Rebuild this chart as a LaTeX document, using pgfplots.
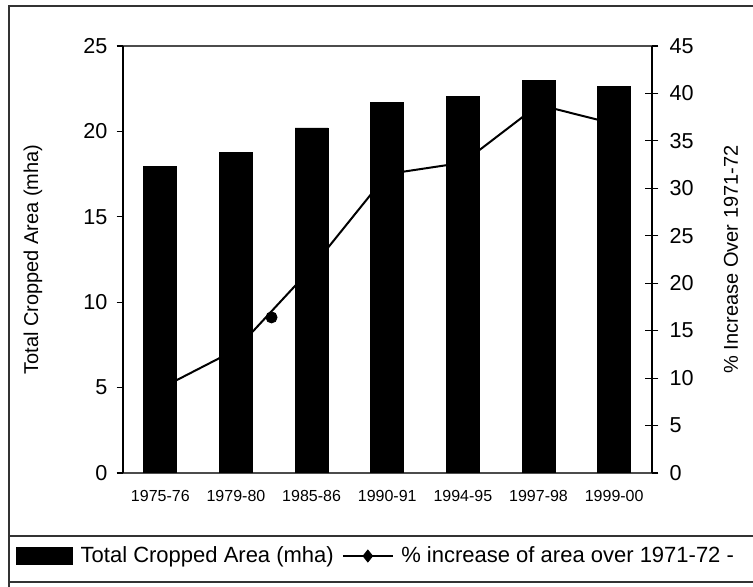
\documentclass[border=0pt]{standalone}
\usepackage{fontspec}
\setmainfont{Liberation Sans}
\usepackage{pgfplots}
\pgfplotsset{compat=1.18}

\begin{document}
\begin{tikzpicture}[x=1pt, y=1pt]
  % fixed page size: 753x587 px at 0.5pt per px
  \useasboundingbox (-61.25,-57) rectangle (315.25,236.5);

  % outer frame and legend band
  \draw[line width=0.8pt, black!80] (-56.75,-57) -- (-56.75,233.5) -- (320,233.5);
  \draw[line width=0.8pt, black!80] (-56.75,-31.5) -- (320,-31.5);
  \draw[line width=0.8pt, black!80] (-56.75,-54.5) -- (320,-54.5);

  % right axis: percentage increase (drawn first, bars go over it)
  \begin{axis}[
      scale only axis,
      width=264.75pt, height=213.5pt,
      xmin=-0.5, xmax=6.5,
      ymin=0, ymax=45,
      axis x line=none,
      axis y line*=right,
      y axis line style={line width=1pt, -},
      ytick={0,5,...,45},
      tick align=center,
      major tick length=6.5pt,
      tick style={black, line width=0.6pt},
      /pgf/number format/assume math mode=true,
      yticklabel style={font=\fontsize{10.8}{12}\selectfont, xshift=2pt},
      ylabel={\% Increase Over 1971-72},
      ylabel style={font=\fontsize{10.8}{12}\selectfont},
      every axis y label/.style={at={(rel axis cs:1,0.5)}, xshift=39.5pt, rotate=90, anchor=center},
    ]
    \addplot[black, line width=1pt, mark=diamond*, mark size=3pt] coordinates {
      (0,8.9) (1,13.0) (2,21.6) (3,31.5) (4,32.7) (5,38.8) (6,36.8)
    };
    \addplot[only marks, black, mark=*, mark size=2.8pt, forget plot] coordinates {
      (1.47,16.4)
    };
  \end{axis}

  % left axis: total cropped area bars
  \begin{axis}[
      scale only axis,
      width=264.75pt, height=213.5pt,
      xmin=-0.5, xmax=6.5,
      ymin=0, ymax=25,
      ybar, bar width=16.5pt,
      separate axis lines,
      x axis line style={black!70, line width=0.6pt},
      y axis line style={black, line width=1pt},
      xtick={0,...,6},
      xticklabels={1975-76,1979-80,1985-86,1990-91,1994-95,1997-98,1999-00},
      x tick style={draw=none},
      extra x ticks={-0.5,0.5,...,6.5},
      extra x tick labels={},
      extra x tick style={tick align=center, major tick length=4pt, tick style={black, draw=black, line width=0.6pt}},
      ytick={0,5,...,25},
      xtick pos=bottom, ytick pos=left,
      tick align=outside,
      major tick length=3pt,
      y tick style={black, line width=0.6pt},
      /pgf/number format/assume math mode=true,
      yticklabel style={font=\fontsize{10.8}{12}\selectfont, xshift=-1pt},
      xticklabel style={font=\fontsize{8}{9}\selectfont, yshift=-2pt},
      ylabel={Total Cropped Area (mha)},
      ylabel style={font=\fontsize{10.8}{12}\selectfont},
      every axis y label/.style={at={(rel axis cs:0,0.5)}, xshift=-44.75pt, rotate=90, anchor=center},
      legend columns=2,
      legend style={at={(-0.2011,-0.1944)}, anchor=west, draw=none, fill=none,
        inner sep=0pt, font=\fontsize{11}{13}\selectfont,
        nodes={inner sep=0pt},
        /tikz/every odd column/.append style={column sep=3.75pt},
        /tikz/every even column/.append style={column sep=4pt}},
    ]
    \addplot[fill=black, draw=black,
      legend image code/.code={\fill[black] (0pt,-4.25pt) rectangle (28pt,4.25pt);}]
      coordinates {
      (0,17.95) (1,18.75) (2,20.2) (3,21.7) (4,22.05) (5,23.0) (6,22.65)
    };
    \addlegendentry{Total Cropped Area (mha)}
    \addlegendimage{legend image code/.code={%
        \draw[black, line width=1pt] (0pt,0pt) -- (25pt,0pt);
        \fill[black] (12.5pt,3pt) -- (14.9pt,0pt) -- (12.5pt,-3pt) -- (10.1pt,0pt) -- cycle;}}
    \addlegendentry{\% increase of area over 1971-72 -}
  \end{axis}
\end{tikzpicture}
\end{document}
